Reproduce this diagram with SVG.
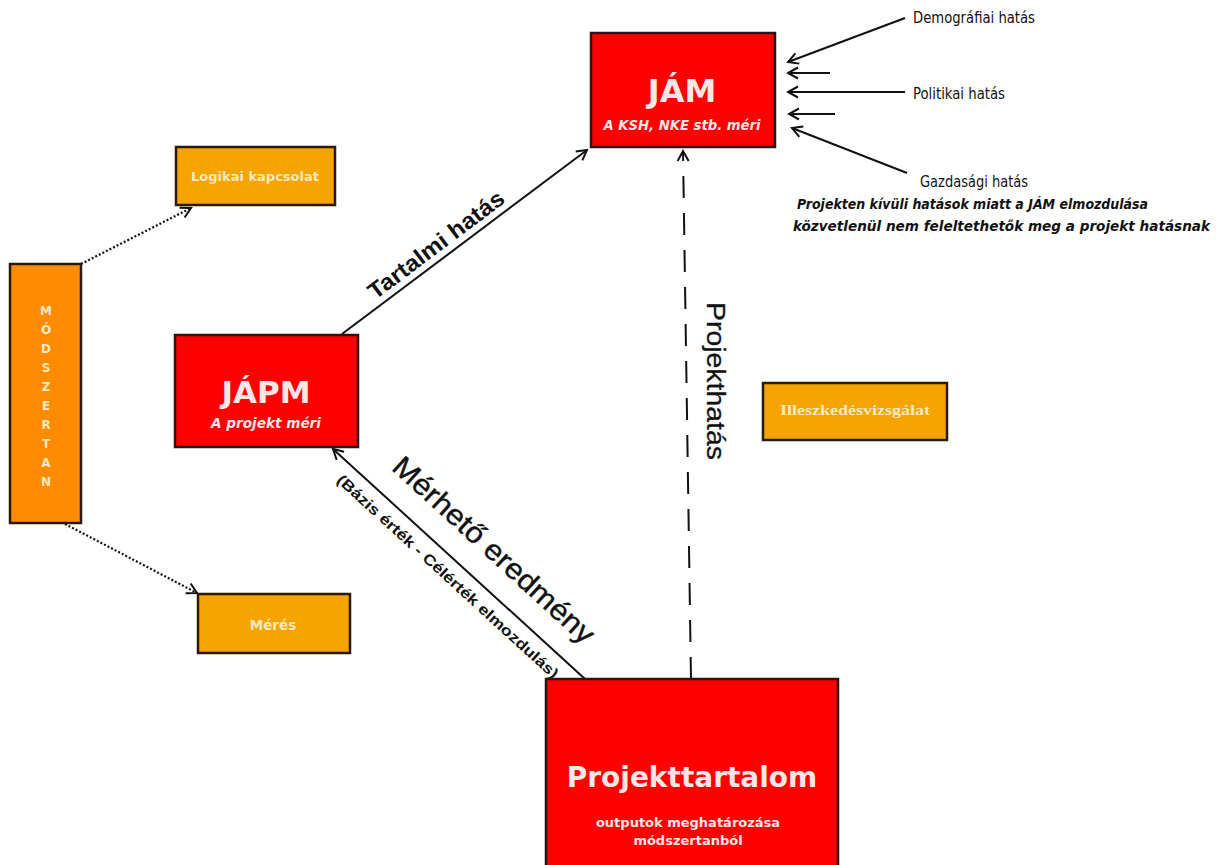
<svg xmlns="http://www.w3.org/2000/svg" width="1220" height="865" viewBox="0 0 1220 865">
<style>
.red{fill:#ff0000;stroke:#2a1414;stroke-width:2.5}
.org{fill:#f6a400;stroke:#2a1a0a;stroke-width:2.5}
.org2{fill:#ff8c00;stroke:#2a1a0a;stroke-width:2.5}
.bt{font-family:"DejaVu Sans","Verdana",sans-serif;font-weight:bold;text-anchor:middle}
.wt{fill:#fde6e6}
.cr{fill:#fbe9c2}
.lbl{font-family:"Liberation Sans",Arial,sans-serif;fill:#111}
.side{font-family:"DejaVu Sans Condensed","DejaVu Sans",sans-serif;font-size:15px;fill:#111}
.ln{stroke:#111;stroke-width:2;fill:none}
.dot{stroke:#111;stroke-width:2.2;fill:none;stroke-dasharray:2 2}
</style>
<defs>
<marker id="ah" markerUnits="userSpaceOnUse" markerWidth="14" markerHeight="14" viewBox="0 0 14 14" refX="12" refY="7" orient="auto">
<path d="M2,1.5 L12,7 L2,12.5" fill="none" stroke="#111" stroke-width="2"/>
</marker>
</defs>

<g id="connectors">
<line class="ln" x1="342" y1="334" x2="587" y2="150" marker-end="url(#ah)"/>
<line class="ln" x1="585" y1="679" x2="333" y2="449" marker-end="url(#ah)"/>
<line class="ln" x1="691" y1="679" x2="683" y2="151" stroke-dasharray="22 15" marker-end="url(#ah)"/>
<line class="dot" x1="81" y1="264" x2="191" y2="208" marker-end="url(#ah)"/>
<line class="dot" x1="65" y1="524" x2="197" y2="593" marker-end="url(#ah)"/>
<line class="ln" x1="905" y1="18" x2="788" y2="62" marker-end="url(#ah)"/>
<line class="ln" x1="830" y1="73" x2="788" y2="73" marker-end="url(#ah)"/>
<line class="ln" x1="905" y1="92" x2="788" y2="92" marker-end="url(#ah)"/>
<line class="ln" x1="835" y1="114" x2="789" y2="114" marker-end="url(#ah)"/>
<line class="ln" x1="907" y1="173" x2="792" y2="128" marker-end="url(#ah)"/>
<g transform="translate(465,241.5) rotate(-36.95)">
<text class="lbl" x="-25" y="-7" font-size="23" font-weight="bold" text-anchor="middle" textLength="164" lengthAdjust="spacingAndGlyphs">Tartalmi hatás</text>
</g>
<g transform="translate(458.5,563.5) rotate(42.4)">
<text class="lbl" x="17" y="-24" font-size="29" text-anchor="middle" stroke="#111" stroke-width="0.4" textLength="262" lengthAdjust="spacingAndGlyphs">Mérhető eredmény</text>
<text class="lbl" x="1" y="22" font-size="15" font-weight="bold" text-anchor="middle" textLength="294" lengthAdjust="spacingAndGlyphs">(Bázis érték - Célérték elmozdulás)</text>
</g>
<g transform="translate(707,381) rotate(90)">
<text class="lbl" x="0" y="0" font-size="26" text-anchor="middle" stroke="#111" stroke-width="0.3" textLength="158" lengthAdjust="spacingAndGlyphs">Projekthatás</text>
</g>
<text class="side" x="913" y="23" textLength="122" lengthAdjust="spacingAndGlyphs">Demográfiai hatás</text>
<text class="side" x="913" y="99" textLength="92" lengthAdjust="spacingAndGlyphs">Politikai hatás</text>
<text class="side" x="920" y="187" textLength="108" lengthAdjust="spacingAndGlyphs">Gazdasági hatás</text>
<text font-family="DejaVu Sans Condensed,DejaVu Sans,sans-serif" font-size="14" font-weight="bold" font-style="italic" fill="#111" x="797" y="209" textLength="351" lengthAdjust="spacingAndGlyphs">Projekten kívüli hatások miatt a JÁM elmozdulása</text>
<text font-family="DejaVu Sans Condensed,DejaVu Sans,sans-serif" font-size="14" font-weight="bold" font-style="italic" fill="#111" x="793" y="231" textLength="417" lengthAdjust="spacingAndGlyphs">közvetlenül nem feleltethetők meg a projekt hatásnak</text>
</g>

<g id="jam">
<rect class="red" x="591" y="33" width="184" height="114"/>
<text class="bt wt" x="682" y="102" font-size="32">JÁM</text>
<text class="bt wt" x="682" y="130" font-size="13.5" font-style="italic" textLength="157" lengthAdjust="spacingAndGlyphs">A KSH, NKE stb. méri</text>
</g>

<g id="japm">
<rect class="red" x="175" y="335" width="183" height="112"/>
<text class="bt wt" x="266" y="403" font-size="31">JÁPM</text>
<text class="bt wt" x="266" y="428" font-size="14" font-style="italic" textLength="110" lengthAdjust="spacingAndGlyphs">A projekt méri</text>
</g>

<g id="projekttartalom">
<rect class="red" x="546" y="679" width="292" height="200"/>
<text class="bt wt" x="692" y="787" font-size="28">Projekttartalom</text>
<text class="bt wt" x="688" y="827" font-size="13">outputok meghatározása</text>
<text class="bt wt" x="688" y="845" font-size="13">módszertanból</text>
</g>

<g id="logikai">
<rect class="org" x="176" y="147" width="159" height="58"/>
<text class="bt cr" x="255" y="181" font-size="12.5" textLength="128" lengthAdjust="spacingAndGlyphs">Logikai kapcsolat</text>
</g>

<g id="meres">
<rect class="org" x="198" y="594" width="152" height="59"/>
<text class="bt cr" x="273" y="630" font-size="13.5">Mérés</text>
</g>

<g id="illeszkedes">
<rect class="org" x="763" y="383" width="184" height="57"/>
<text font-family="Liberation Serif,DejaVu Serif,serif" font-weight="bold" font-size="15" fill="#fbe9c2" text-anchor="middle" x="855" y="415" textLength="150" lengthAdjust="spacingAndGlyphs">Illeszkedésvizsgálat</text>
</g>

<g id="modszertan">
<rect class="org2" x="10" y="264" width="71" height="259"/>
<g class="bt cr" font-size="12">
<text x="46" y="315">M</text>
<text x="46" y="334">Ó</text>
<text x="46" y="353">D</text>
<text x="46" y="372">S</text>
<text x="46" y="391">Z</text>
<text x="46" y="410">E</text>
<text x="46" y="429">R</text>
<text x="46" y="448">T</text>
<text x="46" y="467">A</text>
<text x="46" y="486">N</text>
</g>
</g>
</svg>
